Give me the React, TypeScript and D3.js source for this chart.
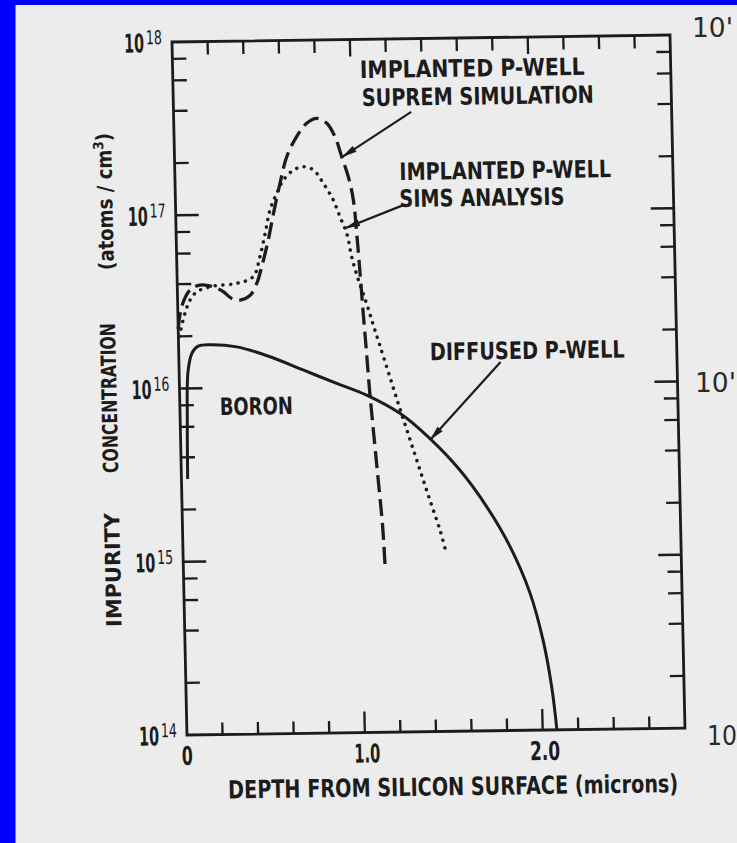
import React from 'react';
import * as d3 from 'd3';

// implanted p-well, SUPREM simulation (dashed)
const supremDepth = [0.0, 0.022, 0.071, 0.128, 0.202, 0.258, 0.304, 0.351, 0.408, 0.447, 0.477, 0.517, 0.549, 0.59, 0.631, 0.689, 0.747, 0.804, 0.86, 0.905, 0.94, 0.975, 1.0, 1.015, 1.029, 1.042, 1.055, 1.068, 1.085, 1.106, 1.125, 1.135];
const supremConc = [2.2e16, 2.96e16, 3.69e16, 3.94e16, 3.84e16, 3.59e16, 3.28e16, 3.2e16, 3.4e16, 3.98e16, 4.97e16, 7.08e16, 1.0e17, 1.5e17, 2.13e17, 2.78e17, 3.31e17, 3.53e17, 3.3e17, 2.75e17, 2.11e17, 1.61e17, 1.19e17, 7.6e16, 4.47e16, 2.62e16, 1.6e16, 9.5e15, 5.5e15, 2.85e15, 1.55e15, 8.6e14];

// implanted p-well, SIMS analysis (dotted)
const simsDepth = [0.005, 0.04, 0.07, 0.109, 0.2, 0.335, 0.428, 0.468, 0.5, 0.53, 0.57, 0.609, 0.666, 0.723, 0.779, 0.833, 0.887, 0.923, 0.959, 0.984, 1.018, 1.062, 1.096, 1.132, 1.184, 1.237, 1.29, 1.343, 1.395, 1.448, 1.481];
const simsConc = [2.0e16, 2.71e16, 3.23e16, 3.6e16, 3.87e16, 4.0e16, 4.36e16, 5.67e16, 7.7e16, 1.05e17, 1.31e17, 1.56e17, 1.78e17, 1.86e17, 1.78e17, 1.49e17, 1.19e17, 9.5e16, 7.6e16, 5.57e16, 4.12e16, 2.99e16, 2.26e16, 1.7e16, 1.12e16, 7.3e15, 4.84e15, 3.21e15, 2.15e15, 1.44e15, 1.05e15];

// diffused p-well, boron (solid)
const boronDepth = [0.035, 0.04, 0.05, 0.075, 0.11, 0.177, 0.327, 0.513, 0.697, 0.884, 1.051, 1.236, 1.402, 1.567, 1.713, 1.839, 1.945, 2.013, 2.056, 2.08];
const boronConc = [3e15, 6.5e15, 1.25e16, 1.6e16, 1.75e16, 1.78e16, 1.72e16, 1.5e16, 1.25e16, 1.04e16, 8.85e15, 6.9e15, 4.9e15, 3.2e15, 1.96e15, 1.15e15, 6.2e14, 3.3e14, 1.77e14, 1.0e14];

const xTickSteps = d3.range(1, 14); // every 0.2 micron
const xLabelValues = [0, 1, 2];
const xLabelText = ['0', '1.0', '2.0'];
const decadeExps = [14, 15, 16, 17, 18];
const minorMults = [2, 4, 6, 8];
const edgeLabels = ["10'", "10'", '10'];

const W = 498;
const H = 693;
const ink = '#1c1c1c';
const family = 'DejaVu Sans';

// squeeze text horizontally to the width it has in the scan
const ctx = document.createElement('canvas').getContext('2d');
function natWidth(s: string, size: number, weight: string) {
  if (!ctx) return s.length * size * 0.6;
  ctx.font = `${weight} ${size}px "${family}"`;
  return ctx.measureText(s).width;
}

function Fit(props: { x: number; y: number; w: number; size: number; bold?: boolean; rot?: number; fill?: string; children: string }) {
  const weight = props.bold ? 'bold' : 'normal';
  const sx = props.w / natWidth(props.children, props.size, weight);
  return (
    <text transform={`translate(${props.x},${props.y}) rotate(${props.rot || 0}) scale(${sx},1)`}
      fontSize={props.size} fontWeight={weight} fontFamily={family} fill={props.fill || ink} stroke="none">
      {props.children}
    </text>
  );
}

export default function App() {
  const x = d3.scaleLinear().domain([0, 2.8]).range([0, W]);
  const y = d3.scaleLog().domain([1e14, 1e18]).range([H, 0]);

  const line = d3.line<[number, number]>()
    .x(d => x(d[0]))
    .y(d => y(d[1]))
    .curve(d3.curveCatmullRom.alpha(0.5));

  const supremPath = line(supremDepth.map((d, i) => [d, supremConc[i]]));
  const simsPath = line(simsDepth.map((d, i) => [d, simsConc[i]]));
  const boronPath = line(boronDepth.map((d, i) => [d, boronConc[i]]));

  const minorY: number[] = [];
  decadeExps.slice(0, 4).forEach(e => minorMults.forEach(m => minorY.push(m * Math.pow(10, e))));
  const majorY = decadeExps.slice(1, 4).map(e => Math.pow(10, e));

  // annotation leaders: [fromDepth, fromConc, tipDepth, tipConc]
  const leaders = [
    [1.336, 3.78e17, 0.942, 2.1e17],
    [1.284, 1.1e17, 0.95, 8.15e16],
    [1.808, 1.34e16, 1.402, 4.81e15],
  ];
  const notes = [
    { t: 'IMPLANTED P-WELL', d: 1.0525, c: 5.98e17, w: 225 },
    { t: 'SUPREM SIMULATION', d: 1.06, c: 4.12e17, w: 232 },
    { t: 'IMPLANTED P-WELL', d: 1.262, c: 1.53e17, w: 212 },
    { t: 'SIMS ANALYSIS', d: 1.259, c: 1.07e17, w: 165 },
    { t: 'DIFFUSED P-WELL', d: 1.411, c: 1.39e16, w: 195 },
    { t: 'BORON', d: 0.224, c: 6.97e15, w: 73 },
  ];

  const arrowHead = (l: number[]) => {
    const sx = x(l[0]), sy = y(l[1]), tx = x(l[2]), ty = y(l[3]);
    const len = Math.hypot(tx - sx, ty - sy);
    const ux = (tx - sx) / len, uy = (ty - sy) / len;
    const L = 15, hw = 3.5;
    const bx = tx - ux * L, by = ty - uy * L;
    return `M${tx},${ty}L${bx - uy * hw},${by + ux * hw}L${bx + uy * hw},${by - ux * hw}Z`;
  };

  const edgePos = [[692, 37, 41], [695, 392, 41], [707, 745, 30]];
  const xLabelW = [11, 26, 30];

  // pieces of the rotated unit label, measured so the superscript sits right
  const unitSx = 137 / (natWidth('(atoms / cm', 21, 'bold') + natWidth('3', 14, 'bold') + natWidth(')', 21, 'bold'));

  return (
    <svg width={737} height={843} style={{ position: 'absolute', left: 0, top: 0, display: 'block' }}>
      <rect width={737} height={843} fill="#ececec" />
      <rect width={15.5} height={843} fill="#0000ff" />
      <rect width={737} height={5} fill="#0000ff" />

      {edgeLabels.map((t, i) => (
        <Fit key={'e' + i} x={edgePos[i][0]} y={edgePos[i][1]} w={edgePos[i][2]} size={27} fill="#2a2a2a">{t}</Fit>
      ))}

      <g transform="matrix(1,-0.014,0.0216,1,172,42)" fill="none" stroke={ink}>
        {/* frame */}
        <rect x={0} y={0} width={W} height={H} strokeWidth={2.8} />

        {/* x ticks, bottom and top, pointing inward */}
        {xTickSteps.map(i => {
          const v = x(i * 0.2);
          const major = i % 5 === 0;
          return (
            <g key={'xt' + i} strokeWidth={2.3}>
              <line x1={v} x2={v} y1={H} y2={H - (major ? 21 : 12)} />
              <line x1={v} x2={v} y1={0} y2={major ? 17 : 13} />
            </g>
          );
        })}

        {/* y ticks, left and right */}
        {minorY.map((c, i) => (
          <g key={'ym' + i} strokeWidth={2.3}>
            <line x1={0} x2={14} y1={y(c)} y2={y(c)} />
            <line x1={W} x2={W - 14} y1={y(c)} y2={y(c)} />
          </g>
        ))}
        {majorY.map((c, i) => (
          <g key={'yM' + i} strokeWidth={2.5}>
            <line x1={0} x2={23} y1={y(c)} y2={y(c)} />
            <line x1={W} x2={W - 23} y1={y(c)} y2={y(c)} />
          </g>
        ))}

        {/* curves */}
        <path d={boronPath || ''} strokeWidth={3} />
        <path d={supremPath || ''} strokeWidth={3.3} strokeDasharray="17 7" />
        <path d={simsPath || ''} strokeWidth={3.5} strokeDasharray="0.1 7.5" strokeLinecap="round" />

        {/* leaders */}
        {leaders.map((l, i) => (
          <g key={'l' + i}>
            <line x1={x(l[0])} y1={y(l[1])} x2={x(l[2])} y2={y(l[3])} strokeWidth={2.2} />
            <path d={arrowHead(l)} fill={ink} stroke="none" />
          </g>
        ))}

        {notes.map((n, i) => (
          <Fit key={'n' + i} x={x(n.d)} y={y(n.c)} w={n.w} size={24} bold>{n.t}</Fit>
        ))}

        {/* y tick labels */}
        {decadeExps.map(e => {
          const v = y(Math.pow(10, e));
          return (
            <g key={'yl' + e}>
              <Fit x={-48} y={v + 10} w={20} size={26} bold>10</Fit>
              <Fit x={-26} y={v + 2} w={16} size={19}>{String(e)}</Fit>
            </g>
          );
        })}

        {/* x tick labels */}
        {xLabelValues.map((d, i) => (
          <Fit key={'xl' + i} x={x(d) - xLabelW[i] / 2 + (i === 0 ? 0 : 2)} y={H + 30} w={xLabelW[i]} size={26} bold>
            {xLabelText[i]}
          </Fit>
        ))}

        <Fit x={40} y={H + 64} w={450} size={25} bold>DEPTH FROM SILICON SURFACE (microns)</Fit>

        {/* y axis title */}
        <Fit x={-63} y={584} w={114} size={21} bold rot={-90}>IMPURITY</Fit>
        <Fit x={-63} y={430} w={150} size={21} bold rot={-90}>CONCENTRATION</Fit>
        <text transform={`translate(-63,227) rotate(-90) scale(${unitSx},1)`} fontSize={21} fontWeight="bold"
          fontFamily={family} fill={ink} stroke="none">
          (atoms / cm<tspan dy={-8} fontSize={14}>3</tspan><tspan dy={8}>)</tspan>
        </text>
      </g>
    </svg>
  );
}
